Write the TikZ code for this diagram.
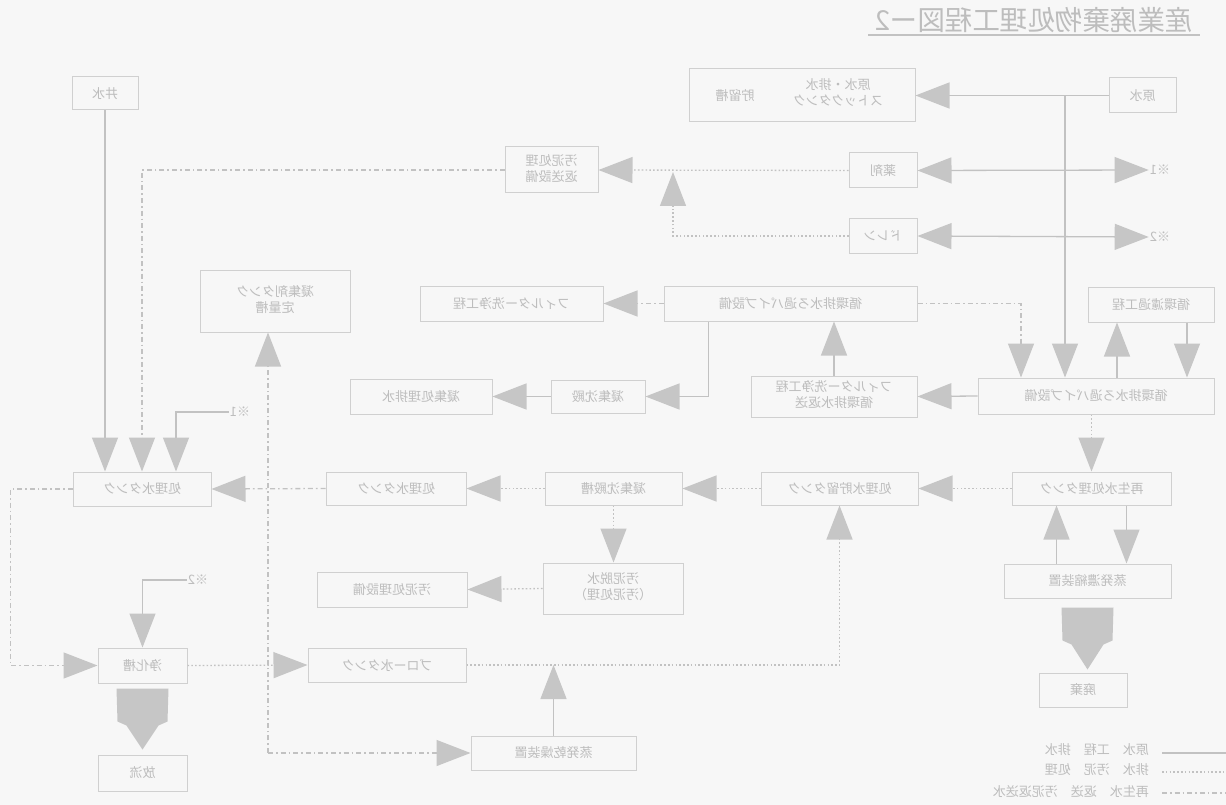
\documentclass[tikz,border=0pt]{standalone}
\usepackage{fontspec}
\usepackage{graphicx}
\setmainfont{Noto Sans CJK JP}
\usetikzlibrary{arrows.meta,calc}
\definecolor{ln}{HTML}{C2C2C2}
\definecolor{bx}{HTML}{D0D0D0}
\definecolor{tx}{HTML}{BDBDBD}
\definecolor{ah}{HTML}{C6C6C6}
\definecolor{bg}{HTML}{F7F7F7}
\newcommand{\mt}[1]{\reflectbox{#1}}
\newcommand{\mtwo}[2]{\reflectbox{\begin{tabular}{@{}c@{}}#1\\#2\end{tabular}}}
\newcommand{\bx}[6]{\node[box, minimum width={#4-#2}, minimum height={#5-#3}] (#1) at ({(#2+#4)/2},{(#3+#5)/2}) {#6};}
\begin{document}
\begin{tikzpicture}[x=1pt,y=-1pt,
  box/.style={draw=bx, line width=1pt, text=tx, font=\fontsize{13}{16}\selectfont, inner sep=0pt, align=center},
  lbl/.style={text=tx, font=\fontsize{13}{16}\selectfont, inner sep=1pt},
  flow/.style={draw=ln, line width=1.3pt},
  dots/.style={flow, dash pattern=on 1.6pt off 2.2pt},
  dd/.style={flow, dash pattern=on 5pt off 3pt on 1.6pt off 3pt},
  tip/.style={-{Triangle[length=34pt,width=26pt,fill=ah,color=ah]}},
  dtip/.style={{Triangle[length=34pt,width=26pt,fill=ah,color=ah]}-{Triangle[length=34pt,width=26pt,fill=ah,color=ah]}},
  fat/.style={fill=ah, draw=none}
]
\fill[bg] (0,0) rectangle (1226,805);
\useasboundingbox (0,0) rectangle (1226,805);

% title
\node[text=tx, font=\fontsize{27.5}{30}\selectfont, inner sep=0pt] (title) at (1034,20) {\mt{産業廃棄物処理工程図ー2}};
\draw[draw=ln, line width=1.6pt] (868,35) -- (1200,35);

% boxes
\bx{gensui}{1109}{78}{1176}{113}{\mt{原水}}
\bx{stock}{689}{69}{915}{122}{}
\node[lbl] (stockA) at (735,96) {\mt{貯留槽}};
\node[lbl] (stockB) at (838,94) {\mtwo{原水・排水}{ストックタンク}};
\bx{ido}{72}{77}{138}{110}{\mt{井水}}
\bx{na}{505}{147}{598}{193}{\mtwo{汚泥処理}{返送設備}}
\bx{yaku}{849}{153}{917}{188}{\mt{薬剤}}
\bx{sono}{849}{219}{917}{253}{\mt{ドレン}}
\bx{tank}{200}{270}{350}{332}{\mtwo{凝集剤タンク}{定量槽}}
\bx{filter}{420}{286}{603}{321}{\mt{フィルター洗浄工程}}
\bx{pipe}{664}{286}{917}{321}{\mt{循環排水ろ過パイプ設備}}
\bx{junkan}{1088}{287}{1214}{322}{\mt{循環濾過工程}}
\bx{filter2}{751}{376}{917}{417}{\mtwo{フィルター洗浄工程}{循環排水返送}}
\bx{big}{978}{378}{1214}{414}{\mt{循環排水ろ過パイプ設備}}
\bx{gyoshu}{551}{380}{645}{413}{\mt{凝集沈殿}}
\bx{hai}{350}{379}{492}{414}{\mt{凝集処理排水}}
\bx{shori}{73}{472}{211}{506}{\mt{処理水タンク}}
\bx{tank2}{326}{472}{466}{505}{\mt{処理水タンク}}
\bx{gyo2}{545}{472}{682}{505}{\mt{凝集沈殿槽}}
\bx{shorisui}{761}{472}{918}{505}{\mt{処理水貯留タンク}}
\bx{shori2}{1012}{472}{1171}{505}{\mt{再生水処理タンク}}
\bx{dassui}{543}{563}{683}{614}{\mtwo{汚泥脱水}{（汚泥処理）}}
\bx{odei}{317}{572}{467}{607}{\mt{汚泥処理設備}}
\bx{joha}{1004}{564}{1171}{598}{\mt{蒸発濃縮装置}}
\bx{haiki}{1039}{673}{1127}{707}{\mt{廃棄}}
\bx{joka}{98}{648}{187}{683}{\mt{浄化槽}}
\bx{blow}{308}{648}{466}{682}{\mt{ブロー水タンク}}
\bx{hou}{98}{755}{187}{791}{\mt{放流}}
\bx{evap}{471}{736}{636}{770}{\mt{蒸発乾燥装置}}

% labels
\node[lbl] (k1) at (1160,170) {\mt{※1}};
\node[lbl] (k2) at (1160,237) {\mt{※2}};
\node[lbl] (k3) at (240,412) {\mt{※1}};
\node[lbl] (k4) at (198,580) {\mt{※2}};

% connectors
\coordinate (j1) at (1065,96);
\draw[flow,tip] (gensui.west) -- (stock.east);
\draw[flow,tip] (j1) -- (j1 |- big.north);
\draw[flow,dtip] (yaku.east) -- (k1.west);
\draw[flow,dtip] (sono.east) -- (k2.west);
\draw[dots,tip] (yaku.west) -- (na.east);
\coordinate (u1) at (673,172);
\draw[dots,tip] (sono.west) -| (u1);
\draw[dd,tip] (na.west) -| (shori.north);
\draw[flow,tip] (ido.south) -- (ido.south |- shori.north);
\draw[flow,tip] (k3.west) -| ([xshift=34]shori.north);
\draw[dd,tip] (pipe.west) -- (filter.east);
\draw[dd,tip] (pipe.east) -| ([xshift=-75]big.north);
\draw[flow,tip] ([xshift=-34]junkan.south |- big.north) -- ([xshift=-34]junkan.south);
\draw[flow,tip] ([xshift=36]junkan.south) -- ([xshift=36]junkan.south |- big.north);
\draw[flow,tip] (big.west) -- (filter2.east);
\draw[flow,tip] (filter2.north) -- (filter2.north |- pipe.south);
\draw[flow,tip] ([xshift=-82]pipe.south) |- (gyoshu.east);
\draw[flow,tip] (gyoshu.west) -- (hai.east);
\draw[dots,tip] (shori2.west) -- (shorisui.east);
\draw[dots,tip] (shorisui.west) -- (gyo2.east);
\draw[dots,tip] (gyo2.west) -- (tank2.east);
\draw[dd,tip] (tank2.west) -- (shori.east);
\draw[dd,tip] (shori.west) -- ++(-62,0) |- (joka.west);
\draw[dots,tip] (shori2.north |- big.south) -- (shori2.north);
\draw[flow,tip] ([xshift=-35]shori2.south |- joha.north) -- ([xshift=-35]shori2.south);
\draw[flow,tip] ([xshift=35]shori2.south) -- ([xshift=35]shori2.south |- joha.north);
\draw[dots,tip] (gyo2.south) -- (gyo2.south |- dassui.north);
\draw[dots,tip] (dassui.west) -- (odei.east);
\draw[dots,tip] (joka.east) -- (blow.west);
\draw[dots,tip] (blow.east) -| (shorisui.south);
\draw[flow,tip] (evap.north) -- (evap.north |- blow.east);
\draw[flow,tip] (k4.west) -| (joka.north);
\coordinate (v) at ([xshift=-7]tank.south |- evap.west);
\draw[dd,tip] (v) -- ([xshift=-7]tank.south);
\draw[dd,tip] (v) -- (evap.west);

% fat arrows
\fill[fat] ($(joka.south)+(-26,5)$) -- ($(joka.south)+(26,5)$) -- ($(joka.south)+(25,38)$) -- ($(joka.south)+(16,42)$) -- ($(joka.south)+(0,66)$) -- ($(joka.south)+(-16,42)$) -- ($(joka.south)+(-25,38)$) -- cycle;
\fill[fat] ($(joha.south)+(-26,9)$) -- ($(joha.south)+(26,9)$) -- ($(joha.south)+(25,42)$) -- ($(joha.south)+(16,46)$) -- ($(joha.south)+(0,71)$) -- ($(joha.south)+(-16,46)$) -- ($(joha.south)+(-25,42)$) -- cycle;

% legend
\node[lbl, anchor=east] (lg1) at (1150,750) {\mt{原水\quad 工程\quad 排水}};
\node[lbl, anchor=east] (lg2) at (1150,770) {\mt{排水\quad 汚泥\quad 処理}};
\node[lbl, anchor=east] (lg3) at (1150,792) {\mt{再生水\quad 返送\quad 汚泥返送水}};
\coordinate (le1) at (1162,753); \coordinate (le2) at (1162,772); \coordinate (le3) at (1162,793);
\draw[flow] (le1) -- ++(64,0);
\draw[dots] (le2) -- ++(64,0);
\draw[dd] (le3) -- ++(64,0);
\end{tikzpicture}
\end{document}
